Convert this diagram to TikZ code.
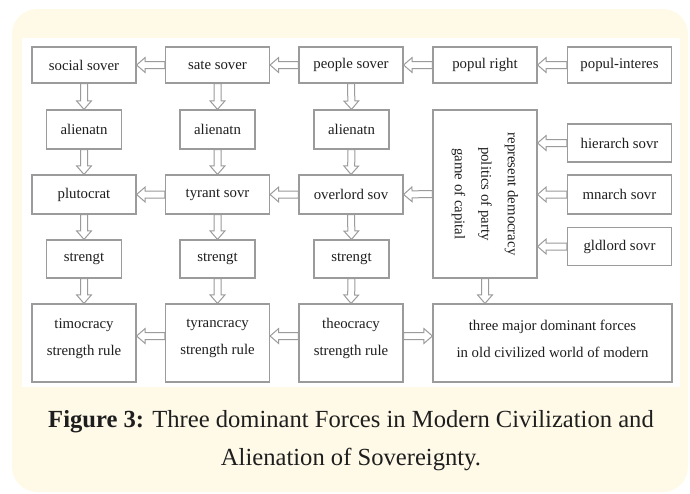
\documentclass[tikz,border=0pt]{standalone}
\usepackage{fontspec}
\setmainfont{Liberation Serif}
\usetikzlibrary{calc}
\definecolor{panelyellow}{RGB}{255,250,232}
\definecolor{framegray}{RGB}{155,155,155}
\definecolor{inkgray}{RGB}{30,30,30}
% fat hollow arrows: half shaft width, half head width, head length
\newcommand\fatshaft{3.5pt}
\newcommand\fathead{7.4pt}
\newcommand\fatlen{8.5pt}
\pgfdeclarelayer{panel}
\pgfdeclarelayer{links}
\pgfsetlayers{panel,links,main}
\begin{document}
\begin{tikzpicture}[x=1pt,y=-1pt,
  box/.style={draw=framegray, line width=1.15pt, fill=white, inner sep=0pt,
    text=inkgray, font=\fontsize{14.8}{26}\selectfont, align=center},
  wide/.style={box, minimum width=104pt, minimum height=38pt},
  narrow/.style={box, minimum width=75pt, minimum height=38pt},
  tall/.style={box, minimum width=104pt, minimum height=78pt},
  boxtext/.style={text=inkgray, font=\fontsize{14.8}{27}\selectfont, align=center, inner sep=0pt},
  captext/.style={text=inkgray, anchor=base, inner sep=0pt, font=\fontsize{24.6}{28}\selectfont},
  fat/.style={draw=framegray, fill=white, line width=1pt, line join=miter,
    to path={
      let \p1=($(\tikztotarget)!\fatlen!(\tikztostart)$) in
      ($(\tikztostart)!\fatshaft!90:(\tikztotarget)$)
      -- ($(\p1)!\fatshaft!90:(\tikztotarget)$)
      -- ($(\p1)!\fathead!90:(\tikztotarget)$)
      -- (\tikztotarget)
      -- ($(\p1)!\fathead!-90:(\tikztotarget)$)
      -- ($(\p1)!\fatshaft!-90:(\tikztotarget)$)
      -- ($(\tikztostart)!\fatshaft!-90:(\tikztotarget)$)
      -- cycle}}
]
\useasboundingbox (0,0) rectangle (690,493);

% background panel and white drawing area
\begin{pgfonlayer}{panel}
  \fill[panelyellow, rounded corners=25pt] (12,9) rectangle (688,492);
  \fill[white] (22,38) rectangle (680,387);
\end{pgfonlayer}

% top row
\node[wide, minimum height=36pt] (social) at (84,65) {social sover};
\node[wide, minimum height=36pt] (sate) at (217.5,65) {sate sover};
\node[wide, minimum height=36pt] (people) at (351,65) {people sover};
\node[wide, minimum height=36pt] (popright) at (485,65) {popul right};
\node[wide, minimum height=36pt] (popint) at (619.5,65) {popul-interes};

% alienation row
\node[narrow, minimum height=39pt] (alA) at (84,129.5) {alienatn};
\node[narrow, minimum height=39pt] (alB) at (217.5,129.5) {alienatn};
\node[narrow, minimum height=39pt] (alC) at (351.5,129.5) {alienatn};

% sovereign forms
\node[wide, minimum height=39pt] (pluto) at (84,194.5) {plutocrat};
\node[wide, minimum height=39pt] (tyrant) at (217.5,194.5) {tyrant sovr};
\node[wide, minimum height=39pt] (overlord) at (351,194.5) {overlord sov};

% strength row
\node[narrow] (stA) at (84,259) {strengt};
\node[narrow] (stB) at (217.5,259) {strengt};
\node[narrow] (stC) at (351.5,259) {strengt};

% rule row
\node[tall] (timo) at (84,343) {};
\node[tall] (tyran) at (217.5,343) {};
\node[tall] (theo) at (351,343) {};
\node[boxtext] (timoT) at (84,338.5) {timocracy\\strength rule};
\node[boxtext] (tyranT) at (217.5,338.5) {tyrancracy\\strength rule};
\node[boxtext] (theoT) at (351,338.5) {theocracy\\strength rule};

% democracy column
\node[box, minimum width=104pt, minimum height=168pt] (rep) at (485,194) {};
\node[boxtext, rotate=-90, font=\fontsize{14.8}{26.5}\selectfont] (repT) at (485,194)
  {represent democracy\\politics of party\\game of capital};

\node[box, minimum width=239pt, minimum height=78pt] (three) at (552.5,343) {};
\node[boxtext] (threeT) at (552.5,338.5)
  {three major dominant forces\\in old civilized world of modern};

% side sovereigns
\node[wide] (hier) at (619.5,143) {hierarch sovr};
\node[wide, minimum height=39pt] (mnarch) at (619.5,194.5) {mnarch sovr};
\node[wide] (gld) at (619.5,246.5) {gldlord sovr};

% arrow end points
\coordinate (hierT) at (hier.west -| rep.east);
\coordinate (mnarchT) at (mnarch.west -| rep.east);
\coordinate (gldT) at (gld.west -| rep.east);
\coordinate (repS) at (rep.south);
\coordinate (threeN) at (rep.south |- three.north);
\coordinate (tyranW) at ($(tyran.west)+(0,-7)$);
\coordinate (timoE) at ($(timo.east)+(0,-7)$);
\coordinate (theoW) at ($(theo.west)+(0,-7)$);
\coordinate (tyranE) at ($(tyran.east)+(0,-7)$);
\coordinate (theoE) at ($(theo.east)+(0,-7)$);
\coordinate (threeW) at ($(three.west)+(0,-7)$);

\begin{pgfonlayer}{links}
  % top row, right to left
  \draw[fat] (popint.west) to (popright.east);
  \draw[fat] (popright.west) to (people.east);
  \draw[fat] (people.west) to (sate.east);
  \draw[fat] (sate.west) to (social.east);
  % columns, downward
  \draw[fat] (social.south) to (alA.north);
  \draw[fat] (alA.south) to (pluto.north);
  \draw[fat] (pluto.south) to (stA.north);
  \draw[fat] (stA.south) to (timo.north);
  \draw[fat] (sate.south) to (alB.north);
  \draw[fat] (alB.south) to (tyrant.north);
  \draw[fat] (tyrant.south) to (stB.north);
  \draw[fat] (stB.south) to (tyran.north);
  \draw[fat] (people.south) to (alC.north);
  \draw[fat] (alC.south) to (overlord.north);
  \draw[fat] (overlord.south) to (stC.north);
  \draw[fat] (stC.south) to (theo.north);
  % middle row, right to left
  \draw[fat] (rep.west) to (overlord.east);
  \draw[fat] (overlord.west) to (tyrant.east);
  \draw[fat] (tyrant.west) to (pluto.east);
  % side sovereigns into the democracy box
  \draw[fat] (hier.west) to (hierT);
  \draw[fat] (mnarch.west) to (mnarchT);
  \draw[fat] (gld.west) to (gldT);
  % bottom row
  \draw[fat] (repS) to (threeN);
  \draw[fat] (theoW) to (tyranE);
  \draw[fat] (tyranW) to (timoE);
  \draw[fat] (theoE) to (threeW);
\end{pgfonlayer}

% caption
\node[captext] (cap1) at (351,427)
  {\textbf{Figure 3:} Three dominant Forces in Modern Civilization and};
\node[captext] (cap2) at (351,465) {Alienation of Sovereignty.};
\end{tikzpicture}
\end{document}
